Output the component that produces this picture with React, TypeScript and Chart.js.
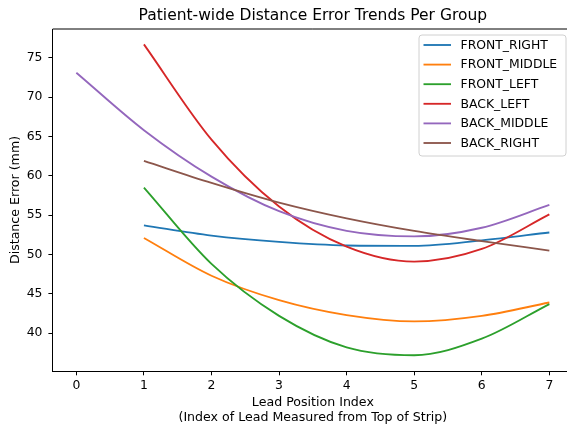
import React, { useEffect, useRef } from "react";
import { Chart, registerables } from "chart.js";

Chart.register(...registerables);

const leadIdx = [0, 1, 2, 3, 4, 5, 6, 7];
const frontRight = [null, 53.7, 52.4, 51.6, 51.15, 51.1, 51.8, 52.8];
const frontMiddle = [null, 52.1, 47.3, 44.2, 42.3, 41.5, 42.2, 43.9];
const frontLeft = [null, 58.5, 48.8, 42.2, 38.2, 37.2, 39.3, 43.7];
const backLeft = [null, 76.7, 64.6, 56.1, 51.0, 49.1, 50.7, 55.1];
const backMiddle = [73.1, 65.8, 59.9, 55.5, 53.0, 52.3, 53.4, 56.3];
const backRight = [null, 61.9, 59.1, 56.6, 54.6, 53.0, 51.7, 50.5];

const seriesNames = ["FRONT_RIGHT", "FRONT_MIDDLE", "FRONT_LEFT", "BACK_LEFT", "BACK_MIDDLE", "BACK_RIGHT"];
const seriesColors = ["#1f77b4", "#ff7f0e", "#2ca02c", "#d62728", "#9467bd", "#8c564b"];
const seriesValues = [frontRight, frontMiddle, frontLeft, backLeft, backMiddle, backRight];

const yTicks = [40, 45, 50, 55, 60, 65, 70, 75];
const xTicks = [0, 1, 2, 3, 4, 5, 6, 7];

const titleText = "Patient-wide Distance Error Trends Per Group";
const xTitle = ["Lead Position Index", "(Index of Lead Measured from Top of Strip)"];
const yTitle = "Distance Error (mm)";

const FONT = "DejaVu Sans";
const FS = 12.4;

const decorPlugin = {
  id: "decor",
  afterDraw(chart: any) {
    const ctx = chart.ctx;
    const a = chart.chartArea;
    ctx.save();
    ctx.strokeStyle = "#000";
    ctx.lineWidth = 1;
    ctx.beginPath();
    ctx.moveTo(a.left, a.top);
    ctx.lineTo(a.right, a.top);
    ctx.lineTo(a.right, a.bottom);
    ctx.stroke();
    ctx.fillStyle = "#000";
    ctx.font = `15.5px '${FONT}'`;
    ctx.textAlign = "center";
    ctx.textBaseline = "middle";
    ctx.fillText(titleText, (a.left + a.right) / 2, 16);
    const bx = 419, by = 35, bw = 147, bh = 121, r = 3;
    ctx.beginPath();
    ctx.moveTo(bx + r, by);
    ctx.lineTo(bx + bw - r, by);
    ctx.arcTo(bx + bw, by, bx + bw, by + r, r);
    ctx.lineTo(bx + bw, by + bh - r);
    ctx.arcTo(bx + bw, by + bh, bx + bw - r, by + bh, r);
    ctx.lineTo(bx + r, by + bh);
    ctx.arcTo(bx, by + bh, bx, by + bh - r, r);
    ctx.lineTo(bx, by + r);
    ctx.arcTo(bx, by, bx + r, by, r);
    ctx.closePath();
    ctx.fillStyle = "rgba(255,255,255,0.8)";
    ctx.fill();
    ctx.strokeStyle = "#d0d0d0";
    ctx.stroke();
    ctx.font = `${FS}px '${FONT}'`;
    ctx.textAlign = "left";
    ctx.textBaseline = "middle";
    seriesNames.forEach((name, i) => {
      const y = 45 + i * 19.6;
      ctx.strokeStyle = seriesColors[i];
      ctx.lineWidth = 1.85;
      ctx.beginPath();
      ctx.moveTo(423.5, y);
      ctx.lineTo(451, y);
      ctx.stroke();
      ctx.fillStyle = "#000";
      ctx.fillText(name, 460.5, y + 0.5);
    });
    ctx.restore();
  },
};

export default function App() {
  const ref = useRef<HTMLCanvasElement>(null);
  useEffect(() => {
    if (!ref.current) return;
    Chart.defaults.font.family = FONT;
    Chart.defaults.color = "#000";
    const datasets = seriesValues.map((vals, i) => ({
      label: seriesNames[i],
      data: leadIdx
        .map((x, j) => ({ x, y: vals[j] }))
        .filter((p) => p.y !== null),
      borderColor: seriesColors[i],
      backgroundColor: seriesColors[i],
      borderWidth: 1.85,
      pointRadius: 0,
      cubicInterpolationMode: "monotone",
      fill: false,
      order: seriesNames.length - i,
    }));
    const chart = new Chart(ref.current, {
      type: "line",
      data: { datasets: datasets as any },
      plugins: [decorPlugin],
      options: {
        animation: false,
        responsive: false,
        devicePixelRatio: 1,
        layout: { padding: { top: 29, right: 7, left: 0, bottom: 0 } },
        plugins: { legend: { display: false }, title: { display: false }, tooltip: { enabled: false } },
        scales: {
          x: {
            type: "linear",
            min: -0.35,
            max: 7.35,
            afterBuildTicks: (s: any) => {
              s.ticks = xTicks.map((v) => ({ value: v }));
            },
            afterFit: (s: any) => {
              s.height = 55;
            },
            grid: { drawOnChartArea: false, drawTicks: true, tickLength: 4.3, tickColor: "#000", tickWidth: 1 },
            border: { display: true, color: "#000", width: 1 },
            ticks: { font: { size: FS }, padding: 3, color: "#000", maxRotation: 0 },
            title: {
              display: true,
              text: xTitle,
              font: { size: 12.6, lineHeight: 1.18 },
              padding: { top: 0, bottom: 0.5 },
              color: "#000",
            },
          },
          y: {
            type: "linear",
            min: 35.2,
            max: 78.65,
            afterBuildTicks: (s: any) => {
              s.ticks = yTicks.map((v) => ({ value: v }));
            },
            afterFit: (s: any) => {
              s.width = 52.7;
            },
            grid: { drawOnChartArea: false, drawTicks: true, tickLength: 4.3, tickColor: "#000", tickWidth: 1 },
            border: { display: true, color: "#000", width: 1 },
            ticks: { font: { size: FS }, padding: 6, color: "#000" },
            title: {
              display: true,
              text: yTitle,
              font: { size: 12.6, lineHeight: 1.2 },
              padding: { top: 8, bottom: 0 },
              color: "#000",
            },
          },
        },
      },
    });
    return () => chart.destroy();
  }, []);
  return (
    <div
      style={{
        position: "fixed",
        left: 0,
        top: 0,
        width: 567,
        height: 426,
        overflow: "hidden",
        background: "#fff",
      }}
    >
      <canvas ref={ref} width={580} height={426} style={{ display: "block" }} />
    </div>
  );
}
